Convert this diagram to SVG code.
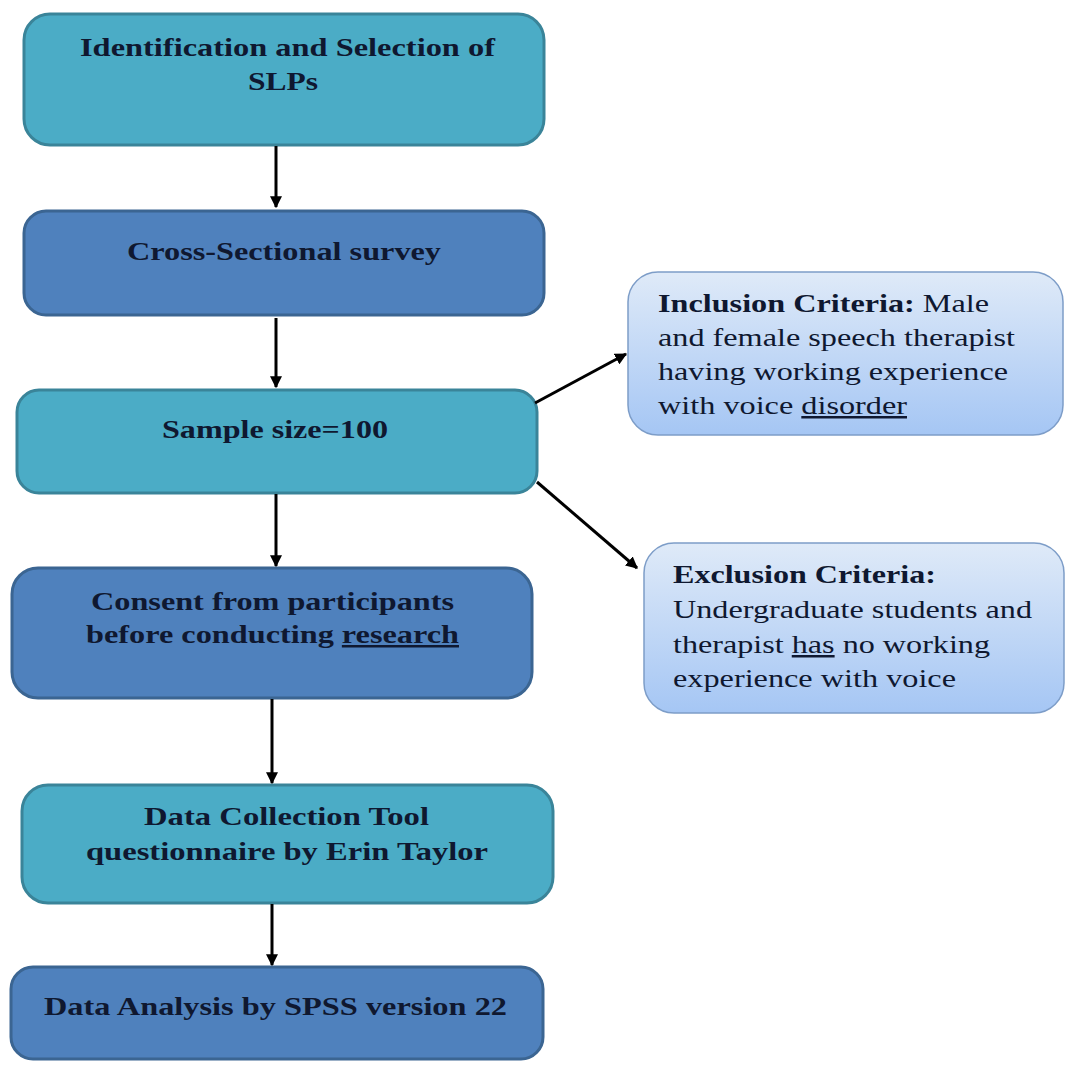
<svg xmlns="http://www.w3.org/2000/svg" width="1067" height="1066" viewBox="0 0 1067 1066">
<style>
.teal{fill:#4bacc6;stroke:#3a8499;stroke-width:3}
.blue{fill:#4f81bd;stroke:#3b6592;stroke-width:3}
.crit{fill:url(#g);stroke:#7d9dc8;stroke-width:1.5}
.t{font-family:"Liberation Serif","Times New Roman",serif;font-weight:bold;font-size:25px;fill:#0f1830}
.b{font-family:"Liberation Serif","Times New Roman",serif;font-size:25px;fill:#0f1830}
.bb{font-weight:bold}
.c line{stroke:#000;stroke-width:3;marker-end:url(#ah)}
</style>
<defs>
<linearGradient id="g" x1="0" y1="0" x2="0" y2="1">
<stop offset="0" stop-color="#dfeaf8"/>
<stop offset="1" stop-color="#a5c6f4"/>
</linearGradient>
<marker id="ah" viewBox="0 0 10 10" refX="9" refY="5" markerWidth="4" markerHeight="4" orient="auto" markerUnits="strokeWidth">
<path d="M0,0 L10,5 L0,10 z" fill="#000"/>
</marker>
</defs>
<rect width="1067" height="1066" fill="#fff"/>
<g id="n1"><rect class="teal" x="24" y="14" width="520" height="131" rx="26"/>
<text class="t" x="80" y="56" textLength="415" lengthAdjust="spacingAndGlyphs">Identification and Selection of</text>
<text class="t" x="248" y="90" textLength="70" lengthAdjust="spacingAndGlyphs">SLPs</text></g>
<g id="n2"><rect class="blue" x="24" y="211" width="520" height="104" rx="22"/>
<text class="t" x="127" y="260" textLength="314" lengthAdjust="spacingAndGlyphs">Cross-Sectional survey</text></g>
<g id="n3"><rect class="teal" x="17" y="390" width="520" height="103" rx="22"/>
<text class="t" x="162" y="438" textLength="226" lengthAdjust="spacingAndGlyphs">Sample size=100</text></g>
<g id="n4"><rect class="blue" x="12" y="568" width="520" height="130" rx="26"/>
<text class="t" x="91" y="610" textLength="363" lengthAdjust="spacingAndGlyphs">Consent from participants</text>
<text class="t" x="86" y="643" textLength="373" lengthAdjust="spacingAndGlyphs">before conducting <tspan text-decoration="underline">research</tspan></text></g>
<g id="n5"><rect class="teal" x="22" y="785" width="531" height="118" rx="26"/>
<text class="t" x="144" y="825" textLength="285" lengthAdjust="spacingAndGlyphs">Data Collection Tool</text>
<text class="t" x="86" y="860" textLength="402" lengthAdjust="spacingAndGlyphs">questionnaire by Erin Taylor</text></g>
<g id="n6"><rect class="blue" x="11" y="967" width="532" height="92" rx="22"/>
<text class="t" x="44" y="1015" textLength="463" lengthAdjust="spacingAndGlyphs">Data Analysis by SPSS version 22</text></g>
<g id="n7"><rect class="crit" x="628" y="272" width="435" height="163" rx="30"/>
<text class="b" x="658" y="312" textLength="331" lengthAdjust="spacingAndGlyphs"><tspan class="bb">Inclusion Criteria:</tspan> Male</text>
<text class="b" x="658" y="346" textLength="357" lengthAdjust="spacingAndGlyphs">and female speech therapist</text>
<text class="b" x="658" y="380" textLength="350" lengthAdjust="spacingAndGlyphs">having working experience</text>
<text class="b" x="658" y="414" textLength="249" lengthAdjust="spacingAndGlyphs">with voice <tspan text-decoration="underline">disorder</tspan></text></g>
<g id="n8"><rect class="crit" x="644" y="543" width="420" height="170" rx="30"/>
<text class="b" x="673" y="583" textLength="263" lengthAdjust="spacingAndGlyphs"><tspan class="bb">Exclusion Criteria:</tspan></text>
<text class="b" x="673" y="618" textLength="359" lengthAdjust="spacingAndGlyphs">Undergraduate students and</text>
<text class="b" x="673" y="653" textLength="317" lengthAdjust="spacingAndGlyphs">therapist <tspan text-decoration="underline">has</tspan> no working</text>
<text class="b" x="673" y="687" textLength="283" lengthAdjust="spacingAndGlyphs">experience with voice</text></g>
<g class="c" id="connectors">
<line x1="276" y1="146" x2="276" y2="207"/>
<line x1="276" y1="318" x2="276" y2="387"/>
<line x1="276" y1="494" x2="276" y2="566"/>
<line x1="272" y1="699" x2="272" y2="783"/>
<line x1="272" y1="904" x2="272" y2="965"/>
<line x1="535" y1="403" x2="626" y2="354"/>
<line x1="537" y1="482" x2="637" y2="568"/>
</g>
</svg>
